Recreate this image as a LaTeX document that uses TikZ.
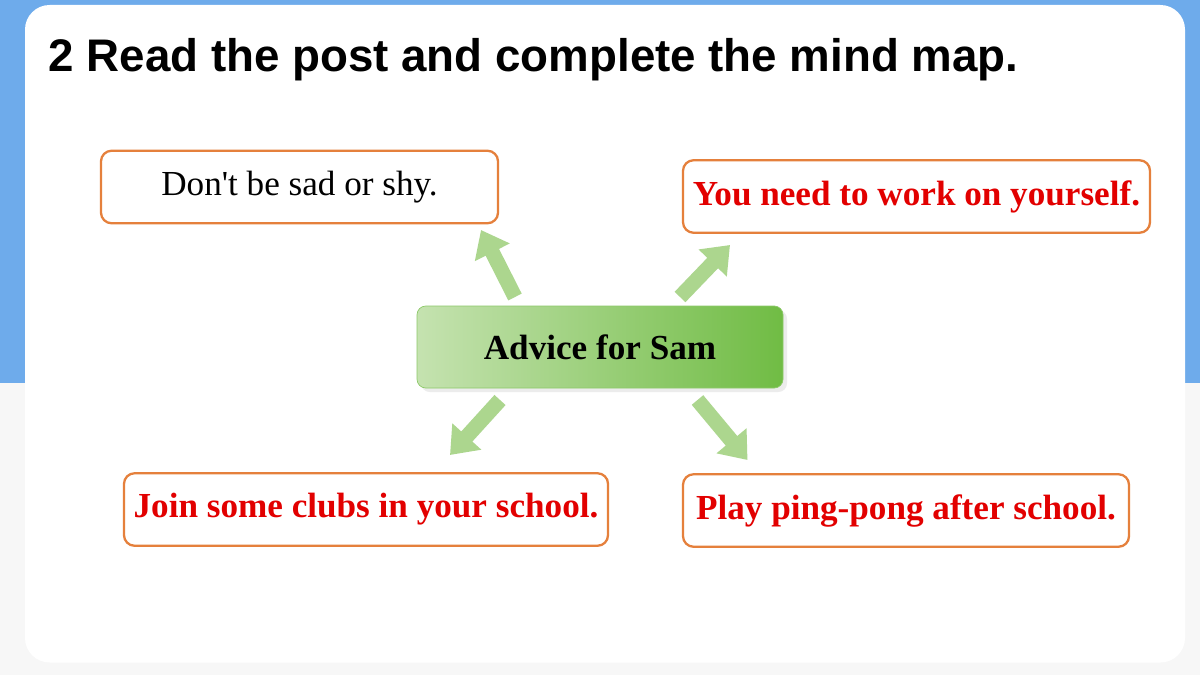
\documentclass[tikz,border=0pt]{standalone}
\usepackage{fontspec}
\usepackage{textcomp}
\setmainfont{Liberation Serif}
\newfontfamily\titlefont{Liberation Sans}
\usetikzlibrary{arrows.meta, positioning, shadows}
\definecolor{myorange}{RGB}{229, 128, 60}
\definecolor{myred}{RGB}{226, 0, 0}
\definecolor{mygreen}{RGB}{172, 214, 142}
\definecolor{mydeepgreen}{RGB}{112, 188, 68}
\definecolor{myblue}{RGB}{84, 156, 232}

\begin{document}
\begin{tikzpicture}[
    box/.style={rectangle, rounded corners=6pt, draw=myorange, line width=1.3pt, fill=white, minimum height=1.45cm, text centered, font=\fontsize{20}{24}\selectfont},
    answer/.style={box, text=myred, font=\fontsize{20}{24}\selectfont\bfseries},
    arrow/.style={draw=mygreen, line width=0.3cm, -{Triangle[width=0.75cm, length=0.5cm]}}
]
\useasboundingbox (0,0) rectangle (24,13.5);
\fill[myblue!85] (0,5.85) rectangle (24,13.5);
\fill[black!3] (0,0) rectangle (24,5.85);
\fill[white, rounded corners=14pt] (0.5,0.25) rectangle (23.7,13.4);

% Title
\node[anchor=west, font=\titlefont\fontsize{26}{30}\selectfont\bfseries] (title) at (0.85,12.3) {2 Read the post and complete the mind map.};

% Centre
\node[rectangle, rounded corners=5pt, draw=mydeepgreen!80, minimum width=7.32cm, minimum height=1.64cm,
      left color=mygreen!70, right color=mydeepgreen, drop shadow={opacity=0.15},
      font=\fontsize{20}{24}\selectfont\bfseries] (centre) at (12,6.56) {Advice for Sam};

% Branches
\node[box, minimum width=7.94cm] (sad) at (5.99,9.76) {Don\textquotesingle t be sad or shy.};
\node[answer, minimum width=9.34cm] (work) at (18.33,9.57) {You need to work on yourself.};
\node[answer, minimum width=9.68cm] (clubs) at (7.32,3.31) {Join some clubs in your school.};
\node[answer, minimum width=8.92cm] (pingpong) at (18.12,3.29) {Play ping-pong after school.};

% Arrows
\coordinate (a1) at (10.3,7.56);  \coordinate (b1) at (9.62,8.9);
\coordinate (a2) at (13.6,7.56);  \coordinate (b2) at (14.6,8.6);
\coordinate (a3) at (10.0,5.5);   \coordinate (b3) at (9.0,4.4);
\coordinate (a4) at (13.95,5.5);  \coordinate (b4) at (14.95,4.3);
\draw[arrow] (a1) -- (b1);
\draw[arrow] (a2) -- (b2);
\draw[arrow] (a3) -- (b3);
\draw[arrow] (a4) -- (b4);

\end{tikzpicture}
\end{document}
